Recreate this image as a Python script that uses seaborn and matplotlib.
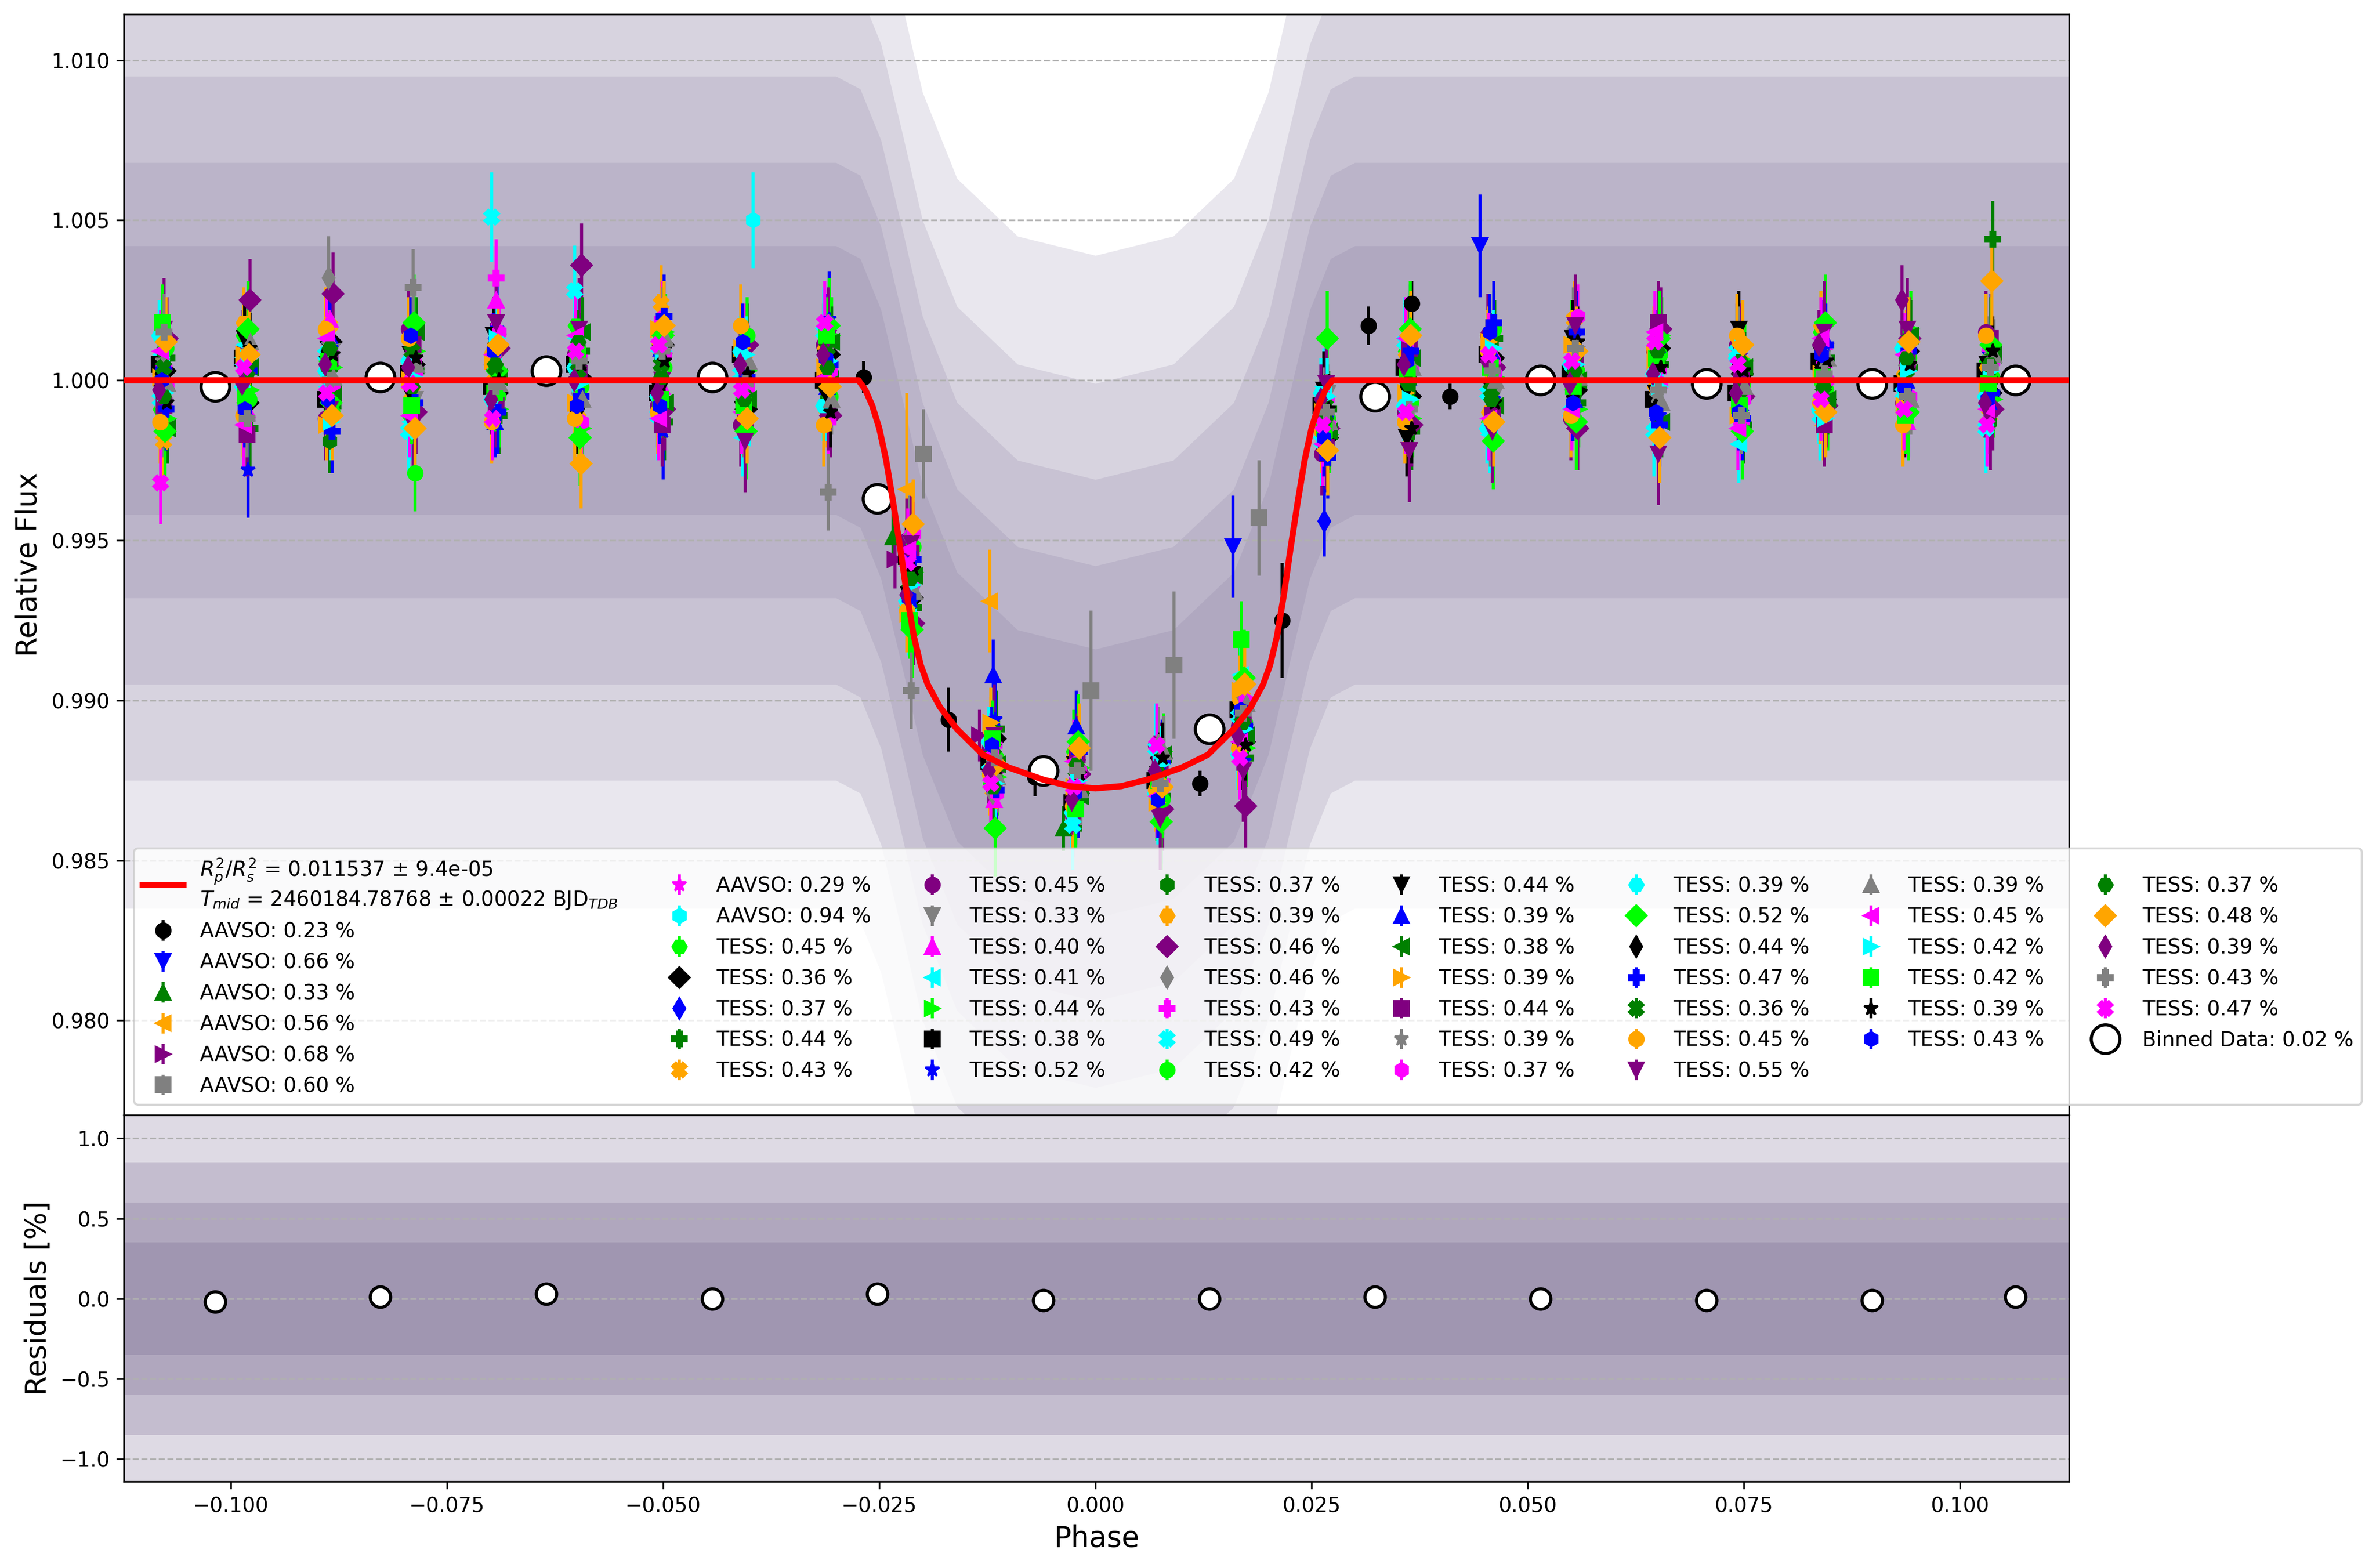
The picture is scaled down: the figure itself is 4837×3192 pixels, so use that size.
import numpy as np
import matplotlib
matplotlib.use('Agg')
import matplotlib.pyplot as plt
import seaborn as sns

# ---------------- data ----------------
# model transit curve
model_phase = [-0.1125, -0.0274, -0.0266, -0.0258, -0.0250, -0.0242, -0.0234, -0.0226, -0.0218,
               -0.0210, -0.0202, -0.0194, -0.0180, -0.0160, -0.0130, -0.0100, -0.0060, -0.0030,
               0.0000, 0.0030, 0.0060, 0.0100, 0.0130, 0.0160, 0.0180, 0.0194, 0.0202, 0.0210,
               0.0218, 0.0226, 0.0234, 0.0242, 0.0250, 0.0258, 0.0266, 0.0274, 0.1127]
model_flux = [1.0000, 1.0000, 0.9997, 0.9992, 0.9985, 0.9975, 0.9962, 0.9948, 0.9933,
              0.9920, 0.9911, 0.9905, 0.9898, 0.9891, 0.9883, 0.9879, 0.98752, 0.98732,
              0.98725, 0.98732, 0.98752, 0.9879, 0.9883, 0.9891, 0.9898, 0.9905, 0.9911, 0.9920,
              0.9933, 0.9948, 0.9962, 0.9975, 0.9985, 0.9992, 0.9997, 1.0000, 1.0000]
model_label = ('$R_p^2/R_s^2$ = 0.011537 ± 9.4e-05\n'
               '$T_{mid}$ = 2460184.78768 ± 0.00022 BJD$_{TDB}$')

# cloud of faint unbinned points: centre line and half-widths of density levels
band_phase = [-0.1125, -0.0300, -0.0272, -0.0248, -0.0224, -0.0200, -0.0160, -0.0090, 0.0000,
              0.0090, 0.0160, 0.0200, 0.0224, 0.0248, 0.0272, 0.0300, 0.1127]
band_mid = [1.0000, 1.0000, 0.9996, 0.9980, 0.9953, 0.9925, 0.9898, 0.9880, 0.9874,
            0.9880, 0.9898, 0.9925, 0.9953, 0.9980, 0.9996, 1.0000, 1.0000]
band_halfwidth = [0.0165, 0.0125, 0.0095, 0.0068, 0.0042]

# cloud of faint residual points (%)
res_phase = [-0.1125, 0.1127]
res_halfwidth = [1.15, 0.85, 0.60, 0.35]

# AAVSO binned points: phase, flux offset [ppt], error [ppt]
aavso_std = [0.23, 0.66, 0.33, 0.56, 0.68, 0.60, 0.29, 0.94]
aavso_phase = [[-0.0268, -0.0170, -0.0070, 0.0121, 0.0216, 0.0316, 0.0366, 0.0410],
               [0.0159, 0.0445],
               [-0.0234, -0.0037],
               [-0.0218, -0.0122],
               [-0.0232, -0.0134],
               [-0.0199, -0.0005, 0.0091, 0.0189],
               [-0.0214, 0.0170],
               [-0.0396]]
aavso_ppt = [[0.1, -10.6, -12.4, -12.6, -7.5, 1.7, 2.4, -0.5],
             [-5.2, 4.2],
             [-4.9, -14.0],
             [-3.4, -6.9],
             [-5.6, -11.1],
             [-2.3, -9.7, -8.9, -4.3],
             [-7.0, -9.8],
             [5.0]]
aavso_err = [[0.5, 1.0, 0.6, 0.4, 1.8, 0.6, 0.7, 0.4],
             [1.6, 1.6],
             [0.8, 0.7],
             [3.0, 1.6],
             [0.9, 0.8],
             [1.4, 2.5, 2.3, 1.8],
             [0.9, 1.0],
             [1.5]]

# TESS binned points: common bin centres, per-sector flux offsets [ppt]
tess_std = [0.45, 0.36, 0.37, 0.44, 0.43, 0.45, 0.33, 0.40, 0.41, 0.44, 0.38, 0.52,
            0.37, 0.39, 0.46, 0.46, 0.43, 0.49, 0.42, 0.44, 0.39, 0.38, 0.39, 0.44,
            0.39, 0.37, 0.39, 0.52, 0.44, 0.47, 0.36, 0.45, 0.55, 0.39, 0.45, 0.42,
            0.42, 0.39, 0.43, 0.37, 0.48, 0.39, 0.43, 0.47]
tess_bin_phase = [-0.1078, -0.0982, -0.0886, -0.0790, -0.0694, -0.0598, -0.0502, -0.0406,
                  -0.0310, -0.0214, -0.0118, -0.0022, 0.0074, 0.0170, 0.0266, 0.0362,
                  0.0458, 0.0554, 0.0650, 0.0746, 0.0842, 0.0938, 0.1034]
tess_dphase = [-3, 2, -1, 4, 0, -4, 3, 1, -2, 5, -5, 2, 0, -3, 4, -1, 1, -4, 3, -2, 0, 5,
               -3, 1, -1, 4, -5, 2, -2, 3, 0, -4, 1, 5, -3, 2, -1, 4, -2, 0, 3, -5, 1, -3]  # 1e-4
tess_err = [1.3, 1.0, 1.1, 1.2, 1.2, 1.3, 0.9, 1.1, 1.2, 1.2, 1.1, 1.5, 1.0, 1.1, 1.3,
            1.3, 1.2, 1.4, 1.2, 1.2, 1.1, 1.1, 1.1, 1.3, 1.1, 1.0, 1.1, 1.5, 1.2, 1.3,
            1.0, 1.3, 1.6, 1.1, 1.3, 1.2, 1.2, 1.1, 1.2, 1.0, 1.4, 1.1, 1.2, 1.3]
tess_ppt = [
    [-0.9, 1.4, 0.6, -1.1, 0.8, 1.7, -0.6, 0.9, -0.2, -5.3, -12.6, -11.6, -13.1, -9.6, -0.7, 0.9, -1.3, 1.2, 0.4, -1.0, 1.5, -0.3, 0.6],
    [0.3, -0.7, 1.2, 0.5, -0.4, 0.1, 1.1, -0.9, 0.8, -6.8, -11.2, -12.9, -11.8, -11.3, -1.8, -0.5, 0.7, -0.3, 1.0, 0.2, -0.6, 0.9, -0.4],
    [-1.4, 0.5, -0.3, 1.0, 1.3, -0.8, 0.2, 0.4, 1.6, -5.9, -12.3, -13.4, -12.9, -10.1, -4.4, 0.3, -0.9, 0.6, -1.2, 0.8, 0.1, -1.1, 0.9],
    [0.7, -1.5, -0.8, 0.3, -1.1, 0.9, -1.3, -0.5, 0.2, -7.1, -10.9, -12.2, -13.0, -11.8, -0.9, -1.6, 1.3, -0.7, 0.5, -1.4, 0.7, 0.4, 4.4],
    [-1.9, 1.0, 1.7, -0.4, 0.2, -1.2, 2.4, 0.6, -0.9, -6.3, -12.8, -11.9, -12.2, -9.9, -1.4, 1.1, 0.3, 1.9, -0.8, 0.6, -1.3, 1.0, -1.1],
    [0.2, 0.9, -1.2, 1.6, 0.5, 0.8, -0.8, -1.4, 1.1, -5.0, -11.5, -13.6, -11.4, -10.8, -2.3, -1.0, 1.4, -1.2, 0.9, 1.1, 0.4, -0.7, 1.5],
    [-0.5, 0.3, 0.9, -0.6, 1.2, -0.3, 0.6, 0.1, -0.4, -6.6, -12.0, -12.4, -12.7, -11.0, -0.4, 0.2, -0.5, 0.8, -0.3, -0.8, 0.9, 0.3, -0.2],
    [1.1, -0.9, 1.9, 0.7, 2.5, -0.6, -0.2, 1.3, 0.5, -4.6, -13.1, -11.2, -12.0, -10.4, -1.1, -0.6, 0.9, 0.4, -1.5, 0.3, 1.2, -1.3, 0.2],
    [0.8, 1.1, -0.2, -1.3, 0.4, 1.3, 0.9, -1.8, -0.7, -7.4, -11.7, -13.0, -13.3, -9.2, -0.2, 0.6, -1.7, 1.0, 0.1, -2.0, -0.5, 0.8, -0.8],
    [-1.2, -0.3, 0.4, 0.9, -0.9, -1.5, 1.5, 0.3, 1.4, -6.0, -12.4, -12.1, -11.6, -11.5, -1.7, -1.2, 0.1, -0.9, 1.4, 0.6, -1.0, 1.6, -0.6],
    [0.5, 0.7, -0.6, 0.2, -0.2, 0.5, -0.4, 0.8, 0.0, -5.5, -11.9, -13.2, -12.5, -10.3, -0.8, 0.4, 0.8, 0.2, -0.6, -0.4, 0.6, -0.1, 0.3],
    [-0.3, -2.8, 1.0, -0.8, 1.6, 0.3, -1.6, -0.7, 1.9, -6.9, -10.6, -12.8, -13.6, -11.9, -2.0, 1.5, -0.6, 1.4, -1.1, 1.0, -0.2, -0.9, 1.2],
    [0.9, 0.2, -1.9, 0.4, -0.7, 1.0, 0.3, -0.3, -0.6, -6.2, -12.7, -12.6, -11.9, -10.9, -1.3, -0.3, 1.1, -0.4, 0.7, -0.9, 0.3, 0.5, -1.3],
    [-0.7, 1.8, 0.2, -0.2, 0.9, -0.9, 1.2, 0.5, 1.0, -5.7, -11.0, -11.8, -12.4, -10.0, -0.5, 0.8, -1.0, 0.6, -0.2, 1.3, 1.7, 0.2, 0.4],
    [1.3, 2.5, 2.7, -1.0, 1.0, 3.6, -0.9, 1.1, -1.1, -7.6, -12.1, -12.3, -13.4, -13.3, -1.5, -1.4, 0.4, -1.5, 1.6, -0.5, -0.8, 1.3, -0.9],
    [-1.1, -0.4, 3.2, 1.2, -0.3, -0.4, 0.7, -1.1, 0.6, -4.9, -12.9, -13.1, -12.1, -9.8, -1.0, 0.5, -1.4, 1.6, -0.9, 0.2, 1.0, -0.6, 0.7],
    [0.4, -1.2, -0.5, 0.6, 3.2, 0.7, 1.9, -0.4, -1.3, -6.4, -11.4, -12.5, -12.8, -11.2, -0.6, -0.9, 0.6, 0.9, 0.3, -1.3, 0.5, 1.1, 1.0],
    [-0.6, 0.6, 0.8, -1.6, 5.1, 2.8, -1.1, 0.2, 1.5, -7.0, -12.2, -13.9, -11.5, -10.5, -1.9, 1.2, -0.4, -1.0, -1.6, 0.9, -1.1, -0.4, -1.5],
    [1.0, -0.6, -1.0, -2.9, -0.5, -0.2, 0.4, 1.4, -0.5, -5.2, -11.8, -11.4, -13.1, -10.7, -1.2, -0.7, 1.6, 0.3, 0.8, -0.1, -0.3, 0.7, 0.1],
    [-0.4, 1.3, 0.5, 0.8, 1.4, -1.1, -0.3, -0.9, 0.7, -6.7, -12.5, -12.0, -12.3, -11.6, -0.3, -1.8, -0.2, 1.3, -0.4, 1.6, 0.8, -1.2, 0.5],
    [0.6, -1.0, 1.4, -0.5, -1.3, 0.6, 1.0, 0.7, -0.2, -5.8, -9.2, -10.8, -12.6, -10.2, -0.9, 0.1, 0.9, -0.6, 1.1, -0.7, 1.4, 0.0, -0.7],
    [-1.5, 0.4, -0.4, 1.5, 0.1, 1.5, -0.7, -0.6, 1.2, -6.1, -12.0, -13.0, -11.7, -11.1, -1.6, 0.7, -0.8, 0.0, -1.3, 0.4, -0.6, 1.4, 0.8],
    [0.1, 0.8, -1.4, 0.0, 0.6, -0.7, 1.6, 1.0, 0.4, -7.3, -10.7, -12.7, -13.2, -9.7, -1.0, -0.4, 1.2, 1.1, 0.6, -1.1, 0.2, -0.8, -0.3],
    [-0.8, -1.7, 0.7, 1.1, -0.8, 0.2, -1.4, -1.3, -0.9, -5.4, -12.6, -11.7, -12.0, -10.6, -2.1, 1.0, -1.1, 0.7, 1.8, 0.0, -1.4, 0.6, 1.3],
    [0.6, 0.1, 1.1, -0.9, 0.7, 1.1, 0.2, 0.3, 0.9, -6.5, -11.6, -12.9, -11.3, -11.4, -0.7, -1.1, 0.5, -0.8, -0.5, 1.2, 0.9, 0.4, -1.0],
    [-0.2, 0.9, -0.1, 0.3, 1.5, -1.3, 0.8, -0.2, 0.3, -4.8, -12.9, -12.2, -12.6, -10.0, -1.4, 0.3, 0.2, 2.0, -0.1, -0.6, 0.0, -0.5, 0.6],
    [1.4, -0.2, 0.3, 0.6, -0.6, 0.4, -0.5, 0.9, -0.8, -6.9, -11.3, -13.5, -12.9, -11.7, -0.4, -0.8, -1.5, 0.5, 0.2, 0.7, -0.9, 1.0, -0.5],
    [-1.6, 1.6, -0.7, 1.8, 0.3, -1.8, 1.4, -1.6, 1.7, -7.8, -14.0, -11.3, -13.8, -9.3, 1.3, 1.6, -1.9, -1.3, 1.3, -1.6, 1.8, -1.0, 1.1],
    [0.2, -0.8, 0.9, -0.3, 1.1, 0.9, -0.1, 0.4, -0.3, -6.0, -11.9, -12.6, -12.2, -11.0, -1.1, -0.2, 0.7, -0.5, -0.9, 0.5, 0.4, -0.3, 0.2],
    [-0.9, 0.3, -1.6, -0.7, -1.0, -0.5, 2.0, 0.1, 0.5, -5.6, -12.8, -11.6, -11.9, -10.8, -2.4, 0.9, 1.8, 1.5, -1.4, -1.2, 1.1, 0.9, -0.4],
    [0.4, 0.5, 0.4, 0.9, 0.4, 0.3, 0.5, -0.5, 1.0, -6.3, -11.5, -12.4, -12.4, -10.5, -0.8, 0.0, -0.3, 0.8, 0.5, -0.3, -0.4, 0.1, 0.0],
    [-1.3, -1.1, 1.6, 1.3, -1.3, -1.2, -1.0, 1.7, -1.4, -7.2, -12.3, -13.3, -12.8, -11.5, -1.6, -1.3, 0.9, -1.1, 1.0, 1.4, -0.7, -1.4, 1.4],
    [1.6, 0.0, -0.9, -1.4, 1.8, 1.6, 0.0, -1.9, 1.3, -5.1, -11.1, -12.1, -13.7, -12.2, -0.1, -2.2, -1.6, 1.7, -2.3, 0.8, 1.5, 1.6, -1.2],
    [-0.1, 1.2, 0.1, 0.5, -0.1, -0.6, 1.3, 0.6, -0.6, -6.6, -12.4, -12.8, -11.6, -10.1, -1.3, 0.4, 0.0, 0.1, -0.7, -0.2, 0.7, -0.6, 0.8],
    [0.9, -1.4, 1.3, -1.1, 0.8, 1.4, -1.2, -1.0, 0.1, -5.3, -11.7, -11.9, -13.0, -11.3, -2.0, 1.3, -1.2, -0.9, 1.5, -1.5, 1.3, 0.8, -0.9],
    [-0.4, 0.7, -1.3, 0.1, 1.3, -0.1, 0.9, 0.8, 0.6, -6.4, -12.6, -12.5, -12.0, -10.9, -0.5, -0.6, 1.0, 0.5, -0.2, 1.0, -1.2, 0.3, 0.3],
    [1.8, -0.5, 0.6, -0.8, -0.4, 0.8, -0.6, -0.8, 1.4, -7.5, -11.2, -13.4, -12.5, -8.1, -1.5, 0.2, 0.4, -0.2, 0.7, -0.8, 0.1, -1.1, -0.1],
    [-0.7, 1.0, 0.8, 0.7, 0.0, 0.5, 0.6, 0.2, -1.0, -5.9, -12.1, -12.3, -11.8, -11.4, -0.9, -1.5, -0.7, 1.2, 0.4, 0.3, 0.6, 0.5, 0.9],
    [0.0, -0.9, -0.6, 1.4, 0.9, -0.8, -0.8, 1.2, 0.7, -6.8, -11.4, -12.9, -13.1, -10.3, -1.8, 0.6, 1.5, -0.7, -1.0, -1.0, 0.8, -0.2, -0.6],
    [-0.5, 0.2, 1.0, -0.2, 0.5, 1.2, 0.1, -0.6, 0.4, -6.2, -12.7, -12.0, -12.3, -10.7, -1.2, -0.1, -0.6, 0.3, 0.9, 0.6, -0.2, 0.7, 0.5],
    [1.2, 0.8, -1.1, -1.5, 1.1, -2.6, 1.7, -1.2, -0.2, -4.5, -12.0, -11.5, -12.7, -9.5, -2.2, 1.4, -1.3, 0.9, -1.8, 1.1, -1.0, 1.2, 3.1],
    [-0.3, -0.1, 0.5, 0.4, -0.6, 0.0, -0.4, 0.5, 0.8, -6.7, -12.2, -13.1, -12.2, -11.1, -0.6, 0.5, 0.6, -0.1, 0.2, -0.4, 1.1, 2.5, -0.7],
    [1.5, -1.2, 0.0, 2.9, -0.2, 0.6, 0.9, -0.1, -3.5, -9.7, -11.8, -12.2, -12.6, -10.4, -1.0, -0.9, 0.3, 1.0, -0.3, -1.1, 0.2, -0.5, 0.4],
    [-3.2, 0.4, -0.4, -0.1, -1.2, 0.9, 1.1, -0.3, 1.8, -5.7, -12.6, -12.7, -11.4, -11.8, -1.4, -1.0, 0.8, 0.6, 1.2, 0.5, -0.6, -0.9, -1.4],
]

# all-data bins
bin_phase = [-0.1018, -0.0827, -0.0635, -0.0443, -0.0252, -0.0060, 0.0132, 0.0323,
             0.0515, 0.0707, 0.0898, 0.1064]
bin_ppt = [-0.2, 0.1, 0.3, 0.1, -3.7, -12.2, -10.9, -0.5, 0.0, -0.1, -0.1, 0.0]
bin_err_ppt = [0.2, 0.2, 0.2, 0.2, 0.2, 0.2, 0.2, 0.2, 0.2, 0.2, 0.2, 0.2]
bin_resid = [-0.02, 0.01, 0.03, 0.00, 0.03, -0.01, 0.00, 0.01, 0.00, -0.01, -0.01, 0.01]
bin_resid_err = [0.02, 0.02, 0.02, 0.02, 0.02, 0.02, 0.02, 0.02, 0.02, 0.02, 0.02, 0.02]

# styles
colors = ['black', 'blue', 'green', 'orange', 'purple', 'gray', 'magenta', 'cyan', 'lime']
markers = ['o', 'v', '^', '<', '>', 's', '*', 'h', 'H', 'D', 'd', 'P', 'X']

# ---------------- figure ----------------
fig = plt.figure(figsize=(4837 / 300, 3192 / 300), dpi=300)
gs = fig.add_gridspec(2, 1, height_ratios=[3, 1], hspace=0,
                      left=0.0522, right=0.8708, bottom=0.0550, top=0.9910)
ax = fig.add_subplot(gs[0])
axr = fig.add_subplot(gs[1], sharex=ax)

# faint unbinned cloud, drawn as nested density levels
mid = np.array(band_mid)
for w in band_halfwidth:
    ax.fill_between(band_phase, mid - w, mid + w, color='#7a6e96', alpha=0.16, lw=0, zorder=0.5)

handles, labels = [], []
for i in range(len(aavso_std)):
    h = ax.errorbar(aavso_phase[i], 1 + np.array(aavso_ppt[i]) / 1000,
                    yerr=np.array(aavso_err[i]) / 1000, fmt=markers[i % 13],
                    color=colors[i % 9], ms=7, zorder=3)
    handles.append(h)
    labels.append(f'AAVSO: {aavso_std[i]:.2f} %')

for j in range(len(tess_std)):
    i = j + len(aavso_std)
    ph = np.array(tess_bin_phase) + tess_dphase[j] * 1e-4
    h = ax.errorbar(ph, 1 + np.array(tess_ppt[j]) / 1000, yerr=tess_err[j] / 1000,
                    fmt=markers[i % 13], color=colors[i % 9], ms=7, zorder=3)
    handles.append(h)
    labels.append(f'TESS: {tess_std[j]:.2f} %')

binned = ax.errorbar(bin_phase, 1 + np.array(bin_ppt) / 1000, yerr=np.array(bin_err_ppt) / 1000,
                     fmt='o', ms=14, mfc='white', mec='black', mew=1.5, ecolor='black', zorder=5)

sns.lineplot(x=model_phase, y=model_flux, ax=ax, color='red', lw=3, zorder=6, sort=False)
model_line = ax.lines[-1]

ax.set_xlim(-0.11235, 0.11261)
ax.set_ylim(0.97705, 1.01144)
ax.set_ylabel('Relative Flux', fontsize=14)
ax.yaxis.grid(True, linestyle='--')
ax.tick_params(labelbottom=False)

ax.legend([model_line] + handles + [binned],
          [model_label] + labels + ['Binned Data: 0.02 %'],
          loc='lower left', ncol=8, fontsize=10)

# residuals
for w in res_halfwidth:
    axr.fill_between(res_phase, -w, w, color='#6a5a86', alpha=0.22, lw=0, zorder=0.5)
axr.errorbar(bin_phase, bin_resid, yerr=bin_resid_err, fmt='o', ms=10, mfc='white',
             mec='black', mew=1.5, ecolor='black', zorder=5)
axr.set_ylim(-1.143, 1.147)
axr.set_ylabel('Residuals [%]', fontsize=14)
axr.set_xlabel('Phase', fontsize=14)
axr.yaxis.grid(True, linestyle='--')

fig.savefig('out.png', dpi=300)
